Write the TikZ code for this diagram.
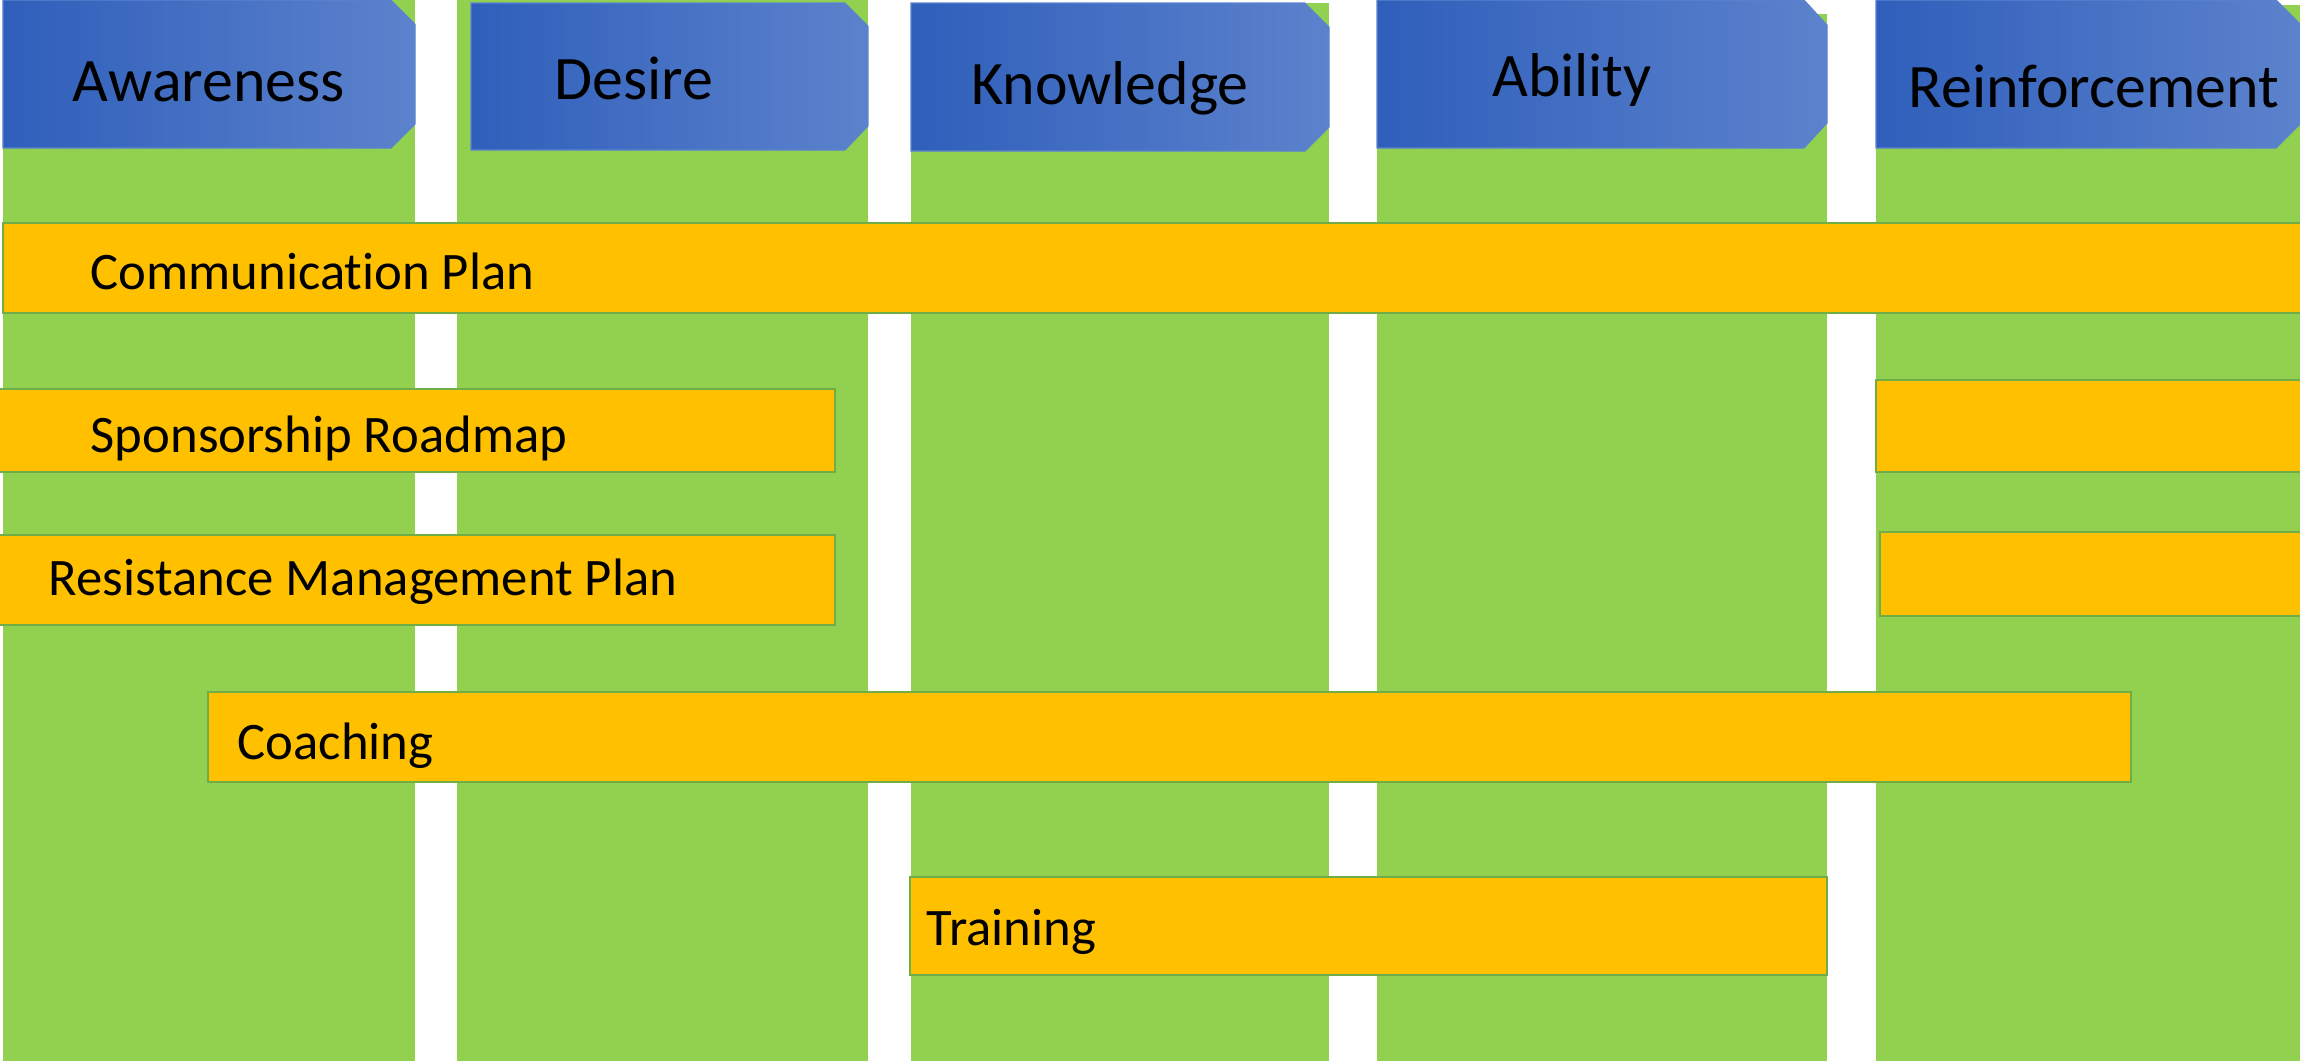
\documentclass[tikz,border=0pt]{standalone}
\usepackage{fontspec}
\setmainfont{Carlito}[Ligatures=NoCommon]
\usetikzlibrary{positioning}
\definecolor{stagegreen}{HTML}{92D050}
\definecolor{barorange}{HTML}{FFC000}
\definecolor{barline}{HTML}{70AD47}
\definecolor{headdark}{HTML}{2F5FBB}
\definecolor{headlight}{HTML}{5C82CC}
\definecolor{headline}{HTML}{5A84D0}
\tikzset{stage/.style={rectangle,fill=stagegreen,anchor=north west,inner sep=0pt,outer sep=0pt},
head/.style={left color=headdark,right color=headlight,draw=headline,line width=0.3pt},
bar/.style={rectangle,fill=barorange,draw=barline,line width=0.45pt,anchor=north west,inner sep=0pt,outer sep=0pt},
head label/.style={font=\fontsize{17.6}{21}\selectfont,inner sep=0pt,text height=11.3pt,text depth=0pt},
bar label/.style={font=\fontsize{15}{18}\selectfont,inner sep=0pt,text height=9.7pt,text depth=0pt}}

\begin{document}
\begin{tikzpicture}[x=0.1mm,y=-0.1mm]
    \useasboundingbox (0,0) rectangle (2300,1061);

    % the five stages
    \node[stage,minimum width=41.2mm,minimum height=106.1mm] (awarecol) at (3,0) {};
    \node[stage,minimum width=41.1mm,minimum height=106.1mm] (desirecol) at (457,0) {};
    \node[stage,minimum width=41.8mm,minimum height=105.8mm] (knowcol) at (911,3) {};
    \node[stage,minimum width=45.0mm,minimum height=104.7mm] (abilitycol) at (1377,14) {};
    \node[stage,minimum width=42.4mm,minimum height=105.6mm] (reinfcol) at (1876,5) {};

    % headers
    \path[head] (3,0) -- (391,0) -- (415,24) -- (415,124) -- (391,148) -- (3,148) -- cycle;
    \path[head] (471,3) -- (845,3) -- (868,26) -- (868,126) -- (845,150) -- (471,150) -- cycle;
    \path[head] (911,3) -- (1305,3) -- (1329,27) -- (1329,127) -- (1305,151) -- (911,151) -- cycle;
    \path[head] (1377,0) -- (1804,0) -- (1827,25) -- (1827,123) -- (1804,148) -- (1377,148) -- cycle;
    \path[head] (1876,0) -- (2276,0) -- (2300,24) -- (2300,124) -- (2276,148) -- (1876,148) -- cycle;

    \node[head label] (aware) at (209,82) {Awareness};
    \node[head label] (desire) at (634,80) {Desire};
    \node[head label] (know) at (1110,85) {Knowledge};
    \node[head label] (ability) at (1572,77) {Ability};
    \node[head label] (reinf) at (2094,88) {Reinforcement};

    % activity bars
    \node[bar,minimum width=230.0mm,minimum height=9.0mm] (comm) at (3,223) {};
    \node[bar,minimum width=83.7mm,minimum height=8.3mm] (spons) at (-2,389) {};
    \node[bar,minimum width=83.7mm,minimum height=9.0mm] (resist) at (-2,535) {};
    \node[bar,minimum width=42.6mm,minimum height=9.2mm] (rbarone) at (1876,380) {};
    \node[bar,minimum width=42.2mm,minimum height=8.4mm] (rbartwo) at (1880,532) {};
    \node[bar,minimum width=192.3mm,minimum height=9.0mm] (coach) at (208,692) {};
    \node[bar,minimum width=91.7mm,minimum height=9.8mm] (train) at (910,877) {};

    \node[bar label,yshift=-0.4mm] (commtext) [right=8.7mm of comm.west] {Communication Plan};
    \node[bar label,yshift=-0.5mm] (sponstext) [right=9.2mm of spons.west] {Sponsorship Roadmap};
    \node[bar label,yshift=0.2mm] (resisttext) [right=5.0mm of resist.west] {Resistance Management Plan};
    \node[bar label,yshift=-0.5mm] (coachtext) [right=2.9mm of coach.west] {Coaching};
    \node[bar label,yshift=-0.2mm] (traintext) [right=1.6mm of train.west] {Training};

\end{tikzpicture}
\end{document}
